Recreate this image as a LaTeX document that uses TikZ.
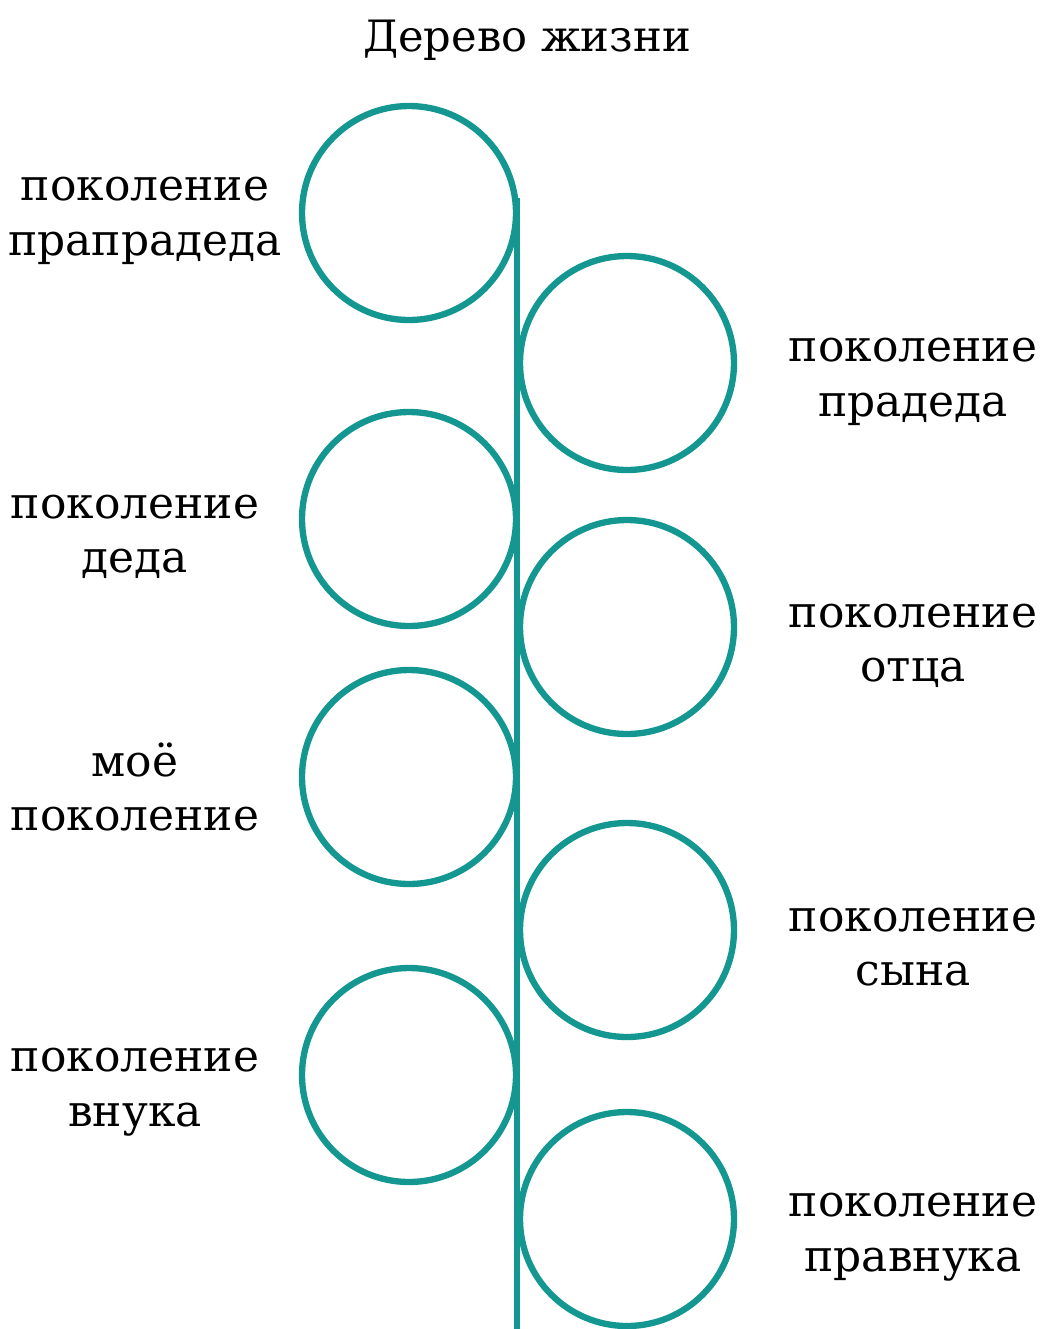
\documentclass[tikz,border=0pt]{standalone}
\usepackage{fontspec}
\setmainfont{DejaVu Serif}
\definecolor{teal1}{RGB}{20,150,145}
\begin{document}
\begin{tikzpicture}[x=0.02cm,y=-0.02cm,
  ring/.style={draw=teal1,line width=3.6pt,circle,minimum size=214*0.02cm,inner sep=0pt},
  lbl/.style={align=center,font=\fontsize{25}{31}\selectfont,inner sep=0pt}]
\useasboundingbox (0,0) rectangle (1041,1329);
\node[lbl,font=\fontsize{24.6}{31}\selectfont] (title) at (527,40) {Дерево жизни};
\node[ring] (c1) at (409,213) {};
\node[ring] (c2) at (627,363) {};
\node[ring] (c3) at (409,519) {};
\node[ring] (c4) at (627,627) {};
\node[ring] (c5) at (409,777) {};
\node[ring] (c6) at (627,930) {};
\node[ring] (c7) at (409,1075) {};
\node[ring] (c8) at (627,1219) {};
\coordinate (top) at (517,198);
\coordinate (bot) at (517,1329);
\draw[draw=teal1,line width=3.6pt] (top) -- (bot);
\node[lbl] (l1) at (145,221) {поколение\\прапрадеда};
\node[lbl] (l2) at (913,382) {поколение\\прадеда};
\node[lbl] (l3) at (135,537) {поколение\\деда};
\node[lbl] (l4) at (913,646) {поколение\\отца};
\node[lbl] (l5) at (135,787) {моё\\поколение};
\node[lbl] (l6) at (913,947) {поколение\\сына};
\node[lbl] (l7) at (135,1092) {поколение\\внука};
\node[lbl] (l8) at (913,1237) {поколение\\правнука};
\end{tikzpicture}
\end{document}
